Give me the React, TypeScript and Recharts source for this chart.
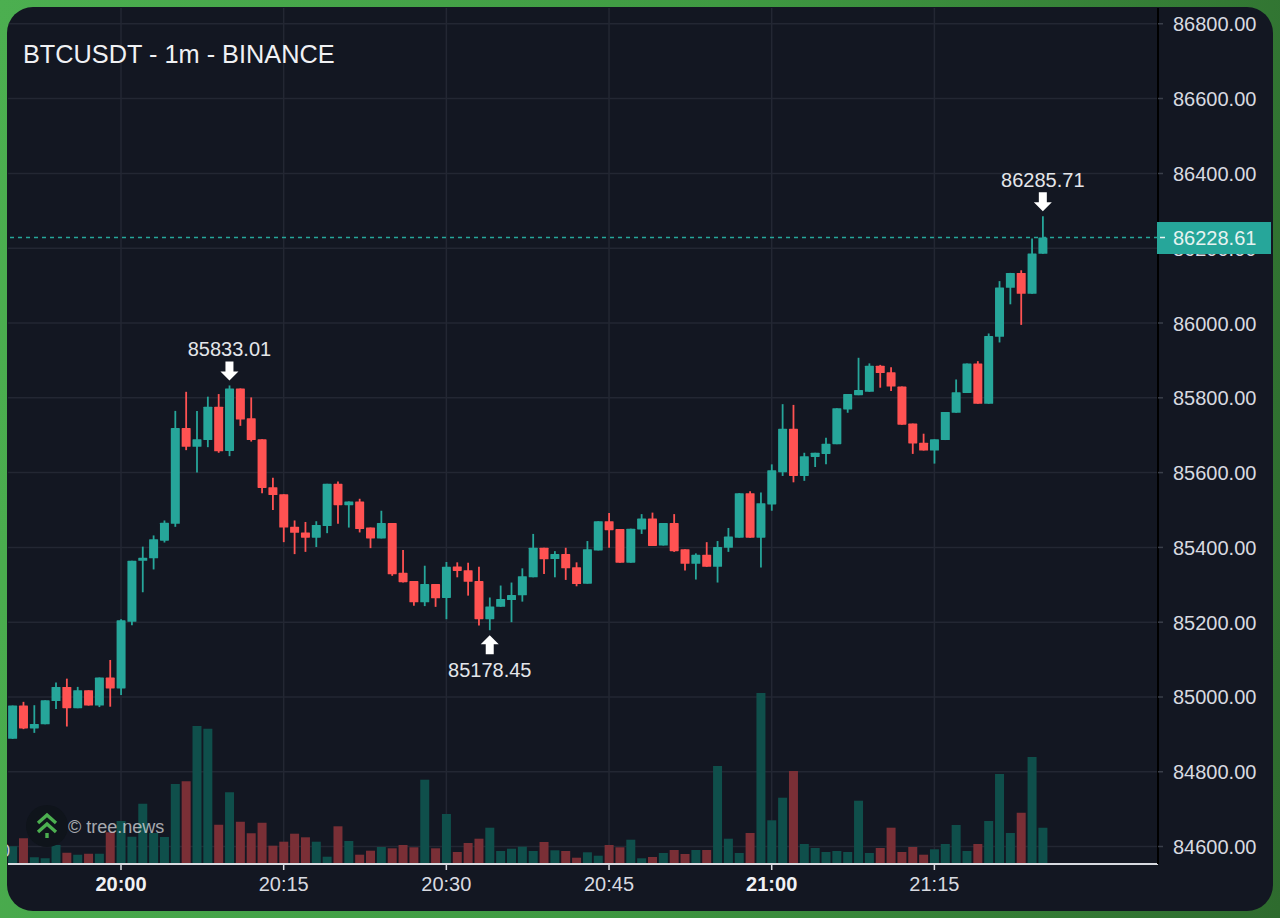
import {
	Bar,
	CartesianGrid,
	Cell,
	ComposedChart,
	ReferenceDot,
	ReferenceLine,
	XAxis,
	YAxis,
} from 'recharts'

const UP = '#26a69a'
const DOWN = '#ff5252'
const UP_VOLUME = '#0f4f4b'
const DOWN_VOLUME = '#7a2f36'
const GRID = '#232733'
const TEXT = '#d8dae0'
const FONT = '"Liberation Sans", Arial, sans-serif'

// one candle per minute, first one is 19:50
const opens = [
	84888, 84977, 84916, 84927, 84989, 85027, 84970, 85018, 84977, 85052, 85023, 85201, 85364, 85371, 85418, 85463,
	85719, 85669, 85687, 85776, 85658, 85825, 85745, 85689, 85561, 85542, 85455, 85440, 85426, 85457, 85570, 85513,
	85523, 85453, 85424, 85465, 85332, 85310, 85253, 85302, 85265, 85349, 85339, 85310, 85208, 85241, 85259, 85272,
	85320, 85399, 85369, 85382, 85347, 85303, 85392, 85470, 85449, 85359, 85448, 85477, 85405, 85465, 85395, 85356,
	85380, 85348, 85399, 85426, 85545, 85426, 85515, 85601, 85717, 85591, 85642, 85650, 85676, 85769, 85807, 85816,
	85886, 85868, 85830, 85731, 85680, 85659, 85687, 85760, 85813, 85892, 85784, 85963, 86094, 86134, 86078, 86185,
]
const highs = [
	84977, 84987, 84978, 84991, 85039, 85049, 85027, 85018, 85052, 85099, 85208, 85364, 85402, 85432, 85472, 85765,
	85816, 85765, 85803, 85810, 85833.01, 85825, 85801, 85689, 85586, 85542, 85472, 85468, 85470, 85570, 85576, 85523,
	85530, 85453, 85498, 85465, 85393, 85310, 85351, 85302, 85361, 85360, 85359, 85348, 85266, 85298, 85306, 85344,
	85436, 85399, 85390, 85399, 85360, 85417, 85470, 85492, 85449, 85450, 85489, 85493, 85465, 85489, 85395, 85384,
	85414, 85417, 85452, 85545, 85550, 85547, 85622, 85783, 85781, 85653, 85653, 85693, 85772, 85810, 85907, 85892,
	85888, 85882, 85830, 85731, 85704, 85689, 85762, 85849, 85892, 85898, 85972, 86112, 86134, 86141, 86226, 86285.71,
]
const lows = [
	84888, 84914, 84904, 84927, 84968, 84921, 84970, 84977, 84973, 84974, 85005, 85192, 85280, 85341, 85413, 85455,
	85660, 85600, 85668, 85653, 85644, 85725, 85683, 85545, 85500, 85414, 85382, 85388, 85401, 85438, 85463, 85453,
	85440, 85398, 85424, 85324, 85306, 85244, 85243, 85241, 85208, 85320, 85271, 85191, 85178.45, 85241, 85200, 85255,
	85320, 85329, 85320, 85313, 85296, 85303, 85392, 85399, 85359, 85359, 85436, 85404, 85405, 85388, 85338, 85314,
	85348, 85306, 85388, 85426, 85426, 85346, 85498, 85591, 85574, 85578, 85615, 85622, 85676, 85760, 85807, 85816,
	85827, 85818, 85728, 85650, 85659, 85624, 85687, 85760, 85813, 85784, 85784, 85948, 86050, 85995, 86078, 86185,
]
const closes = [
	84977, 84916, 84928, 84991, 85027, 84970, 85018, 84977, 85052, 85023, 85205, 85364, 85372, 85422, 85466, 85719,
	85669, 85689, 85776, 85657, 85825, 85742, 85687, 85559, 85540, 85453, 85439, 85426, 85460, 85570, 85513, 85523,
	85449, 85424, 85465, 85328, 85307, 85253, 85302, 85264, 85348, 85337, 85308, 85208, 85242, 85262, 85273, 85323,
	85399, 85368, 85382, 85344, 85302, 85395, 85470, 85446, 85359, 85450, 85477, 85404, 85465, 85390, 85356, 85380,
	85348, 85401, 85429, 85545, 85426, 85518, 85606, 85717, 85591, 85644, 85653, 85677, 85772, 85810, 85821, 85886,
	85866, 85830, 85728, 85678, 85659, 85689, 85762, 85815, 85892, 85784, 85965, 86095, 86134, 86078, 86186, 86228.61,
]
const volumes = [
	17.7, 25.7, 6.7, 5.7, 19, 11.3, 9.3, 10.3, 10.3, 31.7, 43, 27.3, 60.3, 31, 27, 80, 82.7, 138, 135.3, 39.3, 71.7,
	42.3, 30.7, 41.3, 18.3, 22.3, 30.3, 26.7, 22.3, 7.3, 37.7, 23, 9.3, 13.3, 17, 15.7, 19, 16.7, 84.3, 15.7, 50, 12,
	21, 25.3, 36.3, 13, 15.3, 17.3, 13, 22, 13.7, 13, 6.3, 11.7, 8.3, 19, 16.7, 24.3, 5.7, 7, 11, 14, 10, 14, 14, 98,
	25.3, 11, 31, 171, 43.7, 66.3, 93, 20, 16, 12, 13, 12, 63.3, 11, 16, 36.3, 12, 17, 9.3, 14.7, 20, 39, 13, 20, 43,
	90, 31, 51.3, 107, 36.3,
]

const priceTicks = [
	84600, 84800, 85000, 85200, 85400, 85600, 85800, 86000, 86200, 86400, 86600, 86800,
]
const timeTicks = [10, 25, 40, 55, 70, 85]
const timeLabels = ['20:00', '20:15', '20:30', '20:45', '21:00', '21:15']
const boldLabels = ['20:00', '21:00']
const minuteDomain = [-0.42, 105.62]

const lastPrice = 86228.61
const extremes = [
	{ minute: 20, price: 85833.01, label: '85833.01', above: true },
	{ minute: 44, price: 85178.45, label: '85178.45', above: false },
	{ minute: 95, price: 86285.71, label: '86285.71', above: true },
]

const chartData = opens.map((open, i) => ({
	minute: i,
	open,
	close: closes[i],
	high: highs[i],
	low: lows[i],
	range: [lows[i], highs[i]],
	volume: volumes[i],
}))

function Candle(props: any) {
	const { x, y, width, height, payload } = props
	const { open, close, high, low } = payload
	const perUnit = Math.abs(height) / (high - low)
	const top = y + (high - Math.max(open, close)) * perUnit
	const bodyHeight = Math.max(Math.abs(open - close) * perUnit, 1)
	const color = close >= open ? UP : DOWN
	const mid = x + width / 2
	return (
		<g>
			<line x1={mid} x2={mid} y1={y} y2={y + Math.abs(height)} stroke={color} strokeWidth={1.8} />
			<rect x={x} y={top} width={width} height={bodyHeight} fill={color} rx={0.6} />
		</g>
	)
}

function TimeTick({ x, y, payload }: any) {
	const label = timeLabels[timeTicks.indexOf(payload.value)]
	return (
		<text
			x={x}
			y={y + 19}
			textAnchor="middle"
			fontSize={20}
			fontFamily={FONT}
			fontWeight={boldLabels.includes(label) ? 700 : 400}
			fill={boldLabels.includes(label) ? '#f0f1f4' : TEXT}
		>
			{label}
		</text>
	)
}

// the last price sits in the tick list so its tag paints over the 86200 label
function PriceTick({ x, y, payload }: any) {
	if (payload.value === lastPrice) {
		return (
			<g>
				<rect x={x - 16} y={y - 15.5} width={114} height={32} fill={UP} />
				<line x1={x - 13} x2={x - 8} y1={y} y2={y} stroke="#e6f3f1" strokeWidth={1.5} />
				<text x={x} y={y + 7.5} fontSize={20} fontFamily={FONT} fill="#e6f3f1">
					{lastPrice.toFixed(2)}
				</text>
			</g>
		)
	}
	return (
		<text x={x} y={y + 7.5} fontSize={20} fontFamily={FONT} fill={TEXT}>
			{payload.value.toFixed(2)}
		</text>
	)
}

function Extreme({ cx, cy, label, above }: any) {
	const dir = above ? -1 : 1
	const tip = cy + dir * 5
	const neck = tip + dir * 9
	const tail = tip + dir * 19
	const arrow = `M${cx} ${tip}L${cx - 9} ${neck}L${cx - 4} ${neck}L${cx - 4} ${tail}L${cx + 4} ${tail}L${cx + 4} ${neck}L${cx + 9} ${neck}Z`
	return (
		<g>
			<path d={arrow} fill="#ffffff" />
			<text
				x={cx}
				y={cy + (above ? -29 : 47)}
				textAnchor="middle"
				fontSize={20}
				fontFamily={FONT}
				fill="#e4e6ea"
			>
				{label}
			</text>
		</g>
	)
}

export default function App() {
	return (
		<div
			style={{
				position: 'fixed',
				left: 0,
				top: 0,
				width: 1280,
				height: 918,
				background: 'linear-gradient(100deg, #4caf50 0%, #3f9a42 50%, #2e6b2e 100%)',
				fontFamily: FONT,
			}}
		>
			<div
				style={{
					position: 'absolute',
					left: 7,
					top: 7,
					width: 1266,
					height: 904,
					borderRadius: 26,
					overflow: 'hidden',
					background: '#131722',
				}}
			>
				<ComposedChart
					width={1266}
					height={904}
					data={chartData}
					margin={{ top: 1, right: 0, bottom: 0, left: 1 }}
				>
					<CartesianGrid
						stroke={GRID}
						strokeWidth={1.5}
						xAxisId="time"
						yAxisId="price"
						horizontalValues={priceTicks}
						verticalValues={timeTicks}
					/>
					<XAxis
						xAxisId="time"
						type="number"
						dataKey="minute"
						domain={minuteDomain}
						ticks={timeTicks}
						height={47}
						interval={0}
						axisLine={{ stroke: TEXT, strokeWidth: 2 }}
						tickLine={{ stroke: TEXT, strokeWidth: 1.5 }}
						tickSize={6}
						tick={<TimeTick />}
					/>
					<XAxis
						xAxisId="bars"
						orientation="top"
						height={0}
						type="number"
						dataKey="minute"
						domain={minuteDomain}
						hide
					/>
					<YAxis
						yAxisId="price"
						orientation="right"
						type="number"
						domain={[84553.4, 86842.3]}
						ticks={[...priceTicks, lastPrice]}
						interval={0}
						width={115}
						axisLine={{ stroke: '#000000', strokeWidth: 2 }}
						tickLine={{ stroke: '#3a3f4a', strokeWidth: 1.5 }}
						tickSize={5}
						tickMargin={10}
						tick={<PriceTick />}
					/>
					<YAxis yAxisId="volume" type="number" domain={[0, 856]} hide />
					<Bar
						dataKey="volume"
						xAxisId="bars"
						yAxisId="volume"
						barSize={9}
						isAnimationActive={false}
					>
						{chartData.map((d) => (
							<Cell key={d.minute} fill={d.close >= d.open ? UP_VOLUME : DOWN_VOLUME} />
						))}
					</Bar>
					<Bar
						dataKey="range"
						xAxisId="time"
						yAxisId="price"
						barSize={9}
						shape={<Candle />}
						isAnimationActive={false}
					/>
					<ReferenceLine
						xAxisId="time"
						yAxisId="price"
						y={lastPrice}
						stroke={UP}
						strokeWidth={1.6}
						strokeDasharray="4 4"
					/>
					{extremes.map((e) => (
						<ReferenceDot
							key={e.label}
							xAxisId="time"
							yAxisId="price"
							x={e.minute}
							y={e.price}
							shape={(p: any) => <Extreme {...p} label={e.label} above={e.above} />}
						/>
					))}
				</ComposedChart>
				<div
					style={{
						position: 'absolute',
						left: 16,
						top: 32,
						fontSize: 25.3,
						lineHeight: '30px',
						color: '#f0f1f4',
						whiteSpace: 'nowrap',
					}}
				>
					BTCUSDT - 1m - BINANCE
				</div>
				<div
					style={{
						position: 'absolute',
						left: -7,
						top: 833,
						fontSize: 18,
						lineHeight: '22px',
						color: '#c9ccd3',
					}}
				>
					0
				</div>
				<svg
					width={44}
					height={44}
					viewBox="0 0 44 44"
					style={{ position: 'absolute', left: 18, top: 797 }}
				>
					<circle cx={22} cy={22} r={21} fill="#0f141b" />
					<path
						d="M13 19L22 11L31 19M13 28L22 20L31 28"
						fill="none"
						stroke="#4caf50"
						strokeWidth={3.4}
					/>
					<path d="M22 29V34" stroke="#4caf50" strokeWidth={3.4} />
				</svg>
				<div
					style={{
						position: 'absolute',
						left: 61,
						top: 809,
						fontSize: 18,
						lineHeight: '22px',
						color: 'rgba(226,228,232,0.72)',
						whiteSpace: 'nowrap',
					}}
				>
					© tree.news
				</div>
			</div>
		</div>
	)
}
